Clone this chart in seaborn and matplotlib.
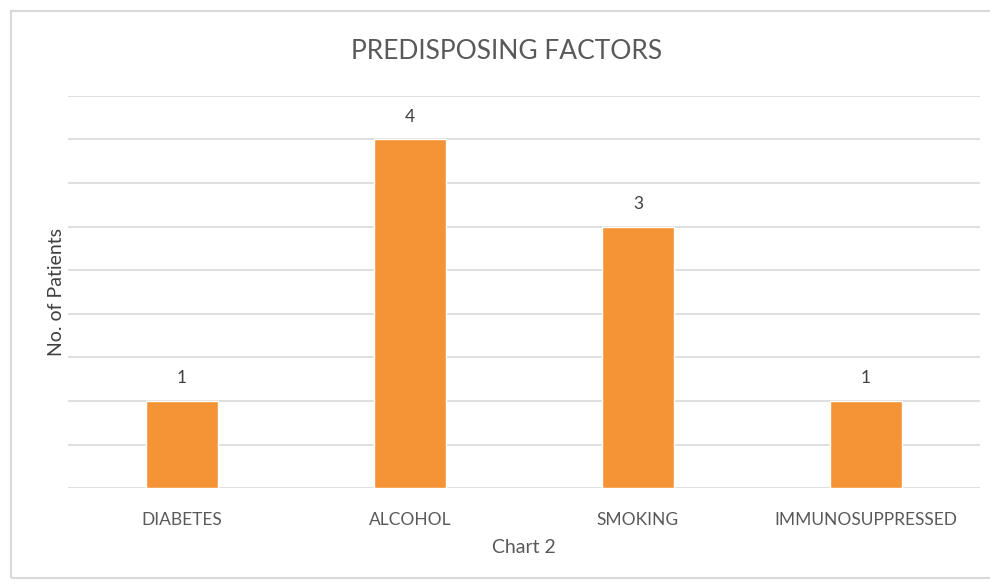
import matplotlib
matplotlib.use("Agg")
import matplotlib.pyplot as plt
import seaborn as sns
import pandas as pd
from matplotlib.patches import Rectangle

categories = ["DIABETES", "ALCOHOL", "SMOKING", "IMMUNOSUPPRESSED"]
patients = [1, 4, 3, 1]

sns.set_theme(style="white")
plt.rcParams['font.family'] = ['Lato', 'DejaVu Sans']

df = pd.DataFrame({"factor": categories, "patients": patients})

fig = plt.figure(figsize=(9.9, 5.84), dpi=100)
ax = fig.add_axes([0.0687, 0.164, 0.921, 0.672])

sns.barplot(data=df, x="factor", y="patients", color="#F59337", saturation=1,
            width=0.315, ax=ax, zorder=3)

ax.set_ylim(0, 4.5)
ax.set_yticks([i * 0.5 for i in range(10)])
ax.yaxis.grid(True, color="#D9D9D9", linewidth=1.2, zorder=0)
ax.set_axisbelow(True)
ax.tick_params(axis="y", left=False, labelleft=False)
ax.tick_params(axis="x", bottom=False, labelsize=12.5, colors="#595959", pad=11)
for s in ax.spines.values():
    s.set_visible(False)

for i, v in enumerate(patients):
    ax.text(i, v + 0.17, str(v), ha="center", va="bottom", fontsize=12.5, color="#404040")

ax.set_xlabel("Chart 2", fontsize=14, color="#595959", labelpad=8)
ax.set_ylabel("No. of Patients", fontsize=14, color="#404040", labelpad=2)

fig.text(0.512, 0.912, "PREDISPOSING FACTORS", ha="center", va="center",
         fontsize=19, color="#595959")

fig.patches.append(Rectangle((0.011, 0.01), 0.995, 0.972, transform=fig.transFigure,
                             fill=False, edgecolor="#D9D9D9", linewidth=1.5))

fig.savefig("out.png", dpi=100)
